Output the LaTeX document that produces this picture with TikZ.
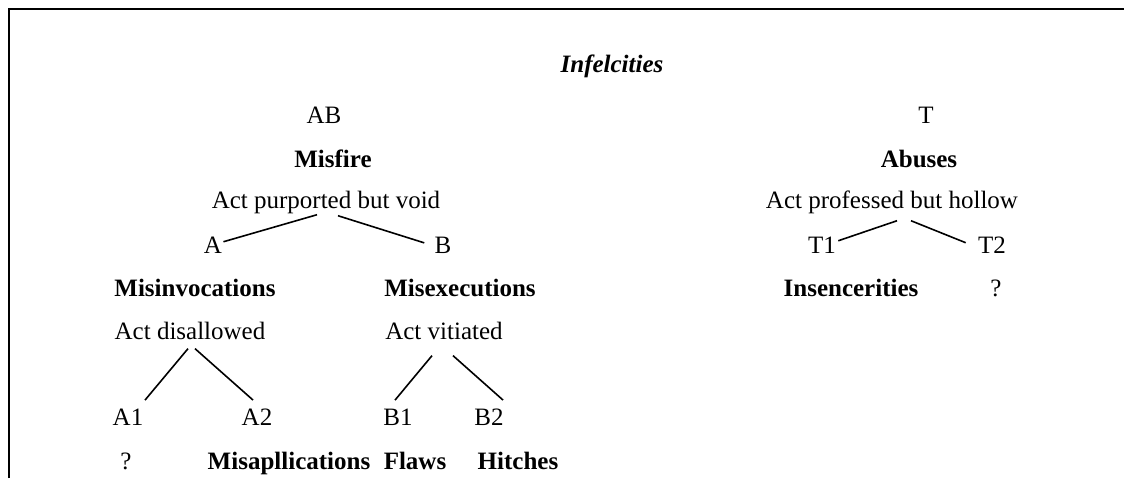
\documentclass[tikz,border=0pt]{standalone}
\usepackage{fontspec}
\setmainfont{Liberation Serif}
\usepackage{tikz}

\begin{document}
\begin{tikzpicture}[x=0.5pt, y=-0.5pt,
    lbl/.style={inner sep=0pt, anchor=base, font=\fontsize{12.5}{15}\selectfont},
    hd/.style={lbl, font=\fontsize{12.5}{15}\selectfont\bfseries},
    ast/.style={line width=0.8pt}]
    \useasboundingbox (0,0) rectangle (1124,478);
    % Rahmen:
    \draw[line width=1pt] (9,478) -- (9,9) -- (1124,9);
    % Titel:
    \node[hd, font=\fontsize{12.5}{15}\selectfont\bfseries\itshape] (titel) at (612,72) {Infelcities};
    % linker Baum:
    \node[lbl] (ab) at (324,123) {AB};
    \node[hd] (misfire) at (333,167) {Misfire};
    \node[lbl] (void) at (326,208) {Act purported but void};
    \node[lbl] (a) at (213,253) {A};
    \node[lbl] (b) at (443,253) {B};
    \node[hd] (misinv) at (195,296) {Misinvocations};
    \node[hd] (misex) at (460,296) {Misexecutions};
    \node[lbl] (disall) at (190,339) {Act disallowed};
    \node[lbl] (vitiat) at (444,339) {Act vitiated};
    \node[lbl] (a1) at (128,425) {A1};
    \node[lbl] (a2) at (257,425) {A2};
    \node[lbl] (b1) at (398,425) {B1};
    \node[lbl] (b2) at (489,425) {B2};
    \node[lbl] (qa) at (126,469) {?};
    \node[hd] (misapp) at (289,469) {Misapllications};
    \node[hd] (flaws) at (415,469) {Flaws};
    \node[hd] (hitch) at (518,469) {Hitches};
    % rechter Baum:
    \node[lbl] (t) at (926,123) {T};
    \node[hd] (abuses) at (919,167) {Abuses};
    \node[lbl] (hollow) at (892,208) {Act professed but hollow};
    \node[lbl] (t1) at (822,253) {T1};
    \node[lbl] (t2) at (992,253) {T2};
    \node[hd] (insinc) at (851,296) {Insencerities};
    \node[lbl] (qt) at (996,296) {?};
    % Aeste:
    \draw[ast] ([shift={(-9,1)}]void.south) -- ([shift={(1,-3)}]a.east); % A
    \draw[ast] ([shift={(12,2)}]void.south) -- ([shift={(-10,-2)}]b.west); % B
    \draw[ast] ([shift={(-2,9)}]disall.south) -- ([shift={(17,-8)}]a1.north); % A1
    \draw[ast] ([shift={(5,9)}]disall.south) -- ([shift={(-4,-8)}]a2.north); % A2
    \draw[ast] ([shift={(-12,16)}]vitiat.south) -- ([shift={(-3,-8)}]b1.north); % B1
    \draw[ast] ([shift={(9,16)}]vitiat.south) -- ([shift={(14,-8)}]b2.north); % B2
    \draw[ast] ([shift={(5,7)}]hollow.south) -- ([shift={(2,-4)}]t1.east); % T1
    \draw[ast] ([shift={(19,7)}]hollow.south) -- ([shift={(-12,-2)}]t2.west); % T2
\end{tikzpicture}
\end{document}
